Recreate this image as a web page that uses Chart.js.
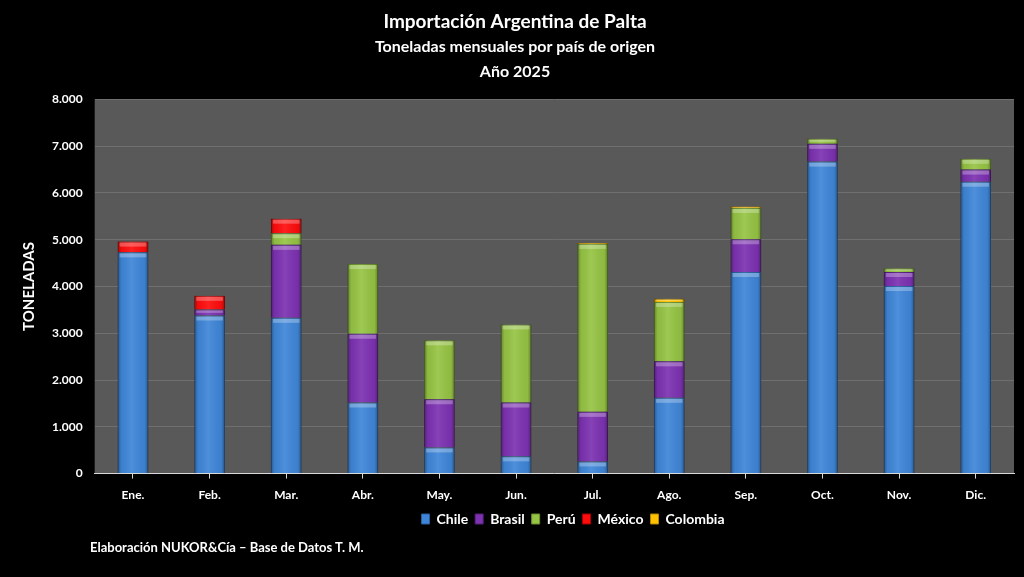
<!DOCTYPE html>
<html>
<head>
<meta charset="utf-8">
<script src="https://cdn.jsdelivr.net/npm/chart.js@4.4.1/dist/chart.umd.min.js"></script>
<style>
  html,body{margin:0;padding:0;background:#000;}
  #wrap{position:relative;width:1024px;height:577px;background:#000;}
  #footer{position:absolute;left:90px;top:539px;color:#fff;font:bold 13px Lato, "Open Sans", sans-serif;}
</style>
</head>
<body>
<div id="wrap">
  <canvas id="c" width="1024" height="577"></canvas>
  <div id="footer">Elaboración NUKOR&amp;Cía – Base de Datos T. M.</div>
</div>
<script>
const months = ["Ene.","Feb.","Mar.","Abr.","May.","Jun.","Jul.","Ago.","Sep.","Oct.","Nov.","Dic."];
const chile    = [4730, 3380, 3330, 1520, 560, 370, 260, 1620, 4310, 6670, 4010, 6240];
const brasil   = [0, 130, 1560, 1470, 1030, 1150, 1060, 780, 700, 380, 300, 260];
const peru     = [0, 0, 250, 1490, 1260, 1670, 3590, 1270, 670, 110, 80, 230];
const mexico   = [230, 290, 310, 0, 0, 0, 0, 0, 0, 0, 0, 0];
const colombia = [0, 0, 0, 0, 0, 0, 20, 70, 30, 0, 0, 0];

const FONT = 'Lato, "Open Sans", sans-serif';

const glossPlugin = {
  id: 'gloss',
  afterDatasetsDraw(chart) {
    const ctx = chart.ctx;
    chart.data.datasets.forEach((ds, di) => {
      const meta = chart.getDatasetMeta(di);
      if (meta.hidden) return;
      meta.data.forEach(el => {
        const {x, y, base, width} = el.getProps(['x','y','base','width'], true);
        const h = base - y;
        if (h < 0.5) return;
        const l = x - width / 2;
        ctx.save();
        const g = ctx.createLinearGradient(l, 0, l + width, 0);
        g.addColorStop(0, 'rgba(0,0,0,0.35)');
        g.addColorStop(0.12, 'rgba(0,0,0,0.05)');
        g.addColorStop(0.45, 'rgba(255,255,255,0.08)');
        g.addColorStop(0.88, 'rgba(0,0,0,0.05)');
        g.addColorStop(1, 'rgba(0,0,0,0.35)');
        ctx.fillStyle = g;
        ctx.fillRect(l, y, width, h);
        const th = Math.min(4, h * 0.4);
        ctx.fillStyle = 'rgba(255,255,255,0.28)';
        ctx.fillRect(l + 2, y + 1, width - 4, th);
        ctx.restore();
      });
    });
  }
};

const plotBg = {
  id: 'plotBg',
  beforeDraw(chart) {
    const {ctx, chartArea: a} = chart;
    ctx.save();
    ctx.fillStyle = '#000';
    ctx.fillRect(0, 0, chart.width, chart.height);
    ctx.fillStyle = '#595959';
    ctx.fillRect(a.left, a.top, a.right - a.left, a.bottom - a.top);
    ctx.restore();
  }
};

const legendShift = {
  id: 'legendShift',
  afterLayout(chart) {
    if (chart.legend) chart.legend.left += 116;
  }
};

function mk(label, data, color, border) {
  return {label, data, backgroundColor: color, borderColor: border, borderWidth: 1,
          barPercentage: 0.8, categoryPercentage: 0.5, stack: 's'};
}

new Chart(document.getElementById('c'), {
  type: 'bar',
  data: {
    labels: months,
    datasets: [
      mk('Chile', chile, '#3f86d8', '#2a5f9e'),
      mk('Brasil', brasil, '#7d32b2', '#56207d'),
      mk('Perú', peru, '#96c444', '#6b8f2c'),
      mk('México', mexico, '#ff0d0d', '#b00000'),
      mk('Colombia', colombia, '#ffc000', '#b38600')
    ]
  },
  plugins: [plotBg, glossPlugin, legendShift],
  options: {
    responsive: false,
    animation: false,
    layout: {padding: {left: 16, right: 10, top: 4, bottom: 41}},
    plugins: {
      title: {
        display: true,
        text: 'Importación Argentina de Palta',
        color: '#fff',
        font: {family: FONT, size: 19, weight: 'bold'},
        padding: {top: 6, bottom: 2}
      },
      subtitle: {
        display: true,
        text: ['Toneladas mensuales por país de origen', 'Año 2025'],
        color: '#fff',
        font: {family: FONT, size: 16, weight: 'bold', lineHeight: 1.55},
        padding: {top: 0, bottom: 15}
      },
      legend: {
        position: 'bottom',
        labels: {
          color: '#fff',
          boxWidth: 8, boxHeight: 10,
          padding: 7,
          font: {family: FONT, size: 14, weight: 'bold'}
        }
      },
      tooltip: {enabled: false}
    },
    scales: {
      x: {
        stacked: true,
        afterFit: axis => { axis.height = axis.height - 6; },
        grid: {display: true, drawOnChartArea: false, drawTicks: true, tickLength: 5, color: '#d9d9d9', offset: false},
        border: {color: '#d9d9d9', width: 1},
        ticks: {color: '#fff', font: {family: FONT, size: 12, weight: 'bold'}, padding: 9}
      },
      y: {
        stacked: true,
        min: 0, max: 8000,
        ticks: {
          stepSize: 1000, color: '#fff', padding: 12,
          font: {family: FONT, size: 12, weight: 'bold'},
          callback: v => v === 0 ? '0' : v.toLocaleString('de-DE')
        },
        grid: {color: '#6f6f6f', drawTicks: false},
        border: {display: false},
        title: {display: true, text: 'TONELADAS', color: '#fff', font: {family: FONT, size: 15, weight: 'bold'}, padding: {bottom: 2}}
      }
    }
  }
});
</script>
</body>
</html>
